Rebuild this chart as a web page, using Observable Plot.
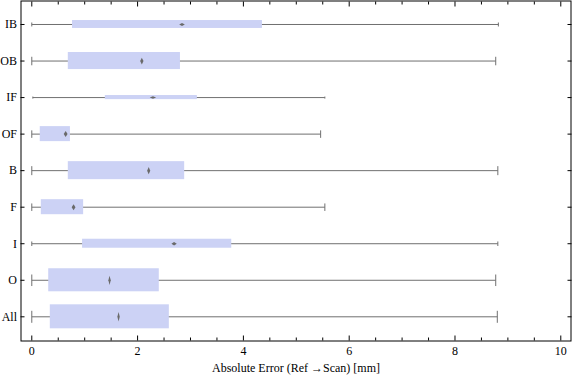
<!DOCTYPE html>
<html><head><meta charset="utf-8">
<script src="https://cdn.jsdelivr.net/npm/d3@7"></script>
<script src="https://cdn.jsdelivr.net/npm/@observablehq/plot@0.6"></script>
<style>body{margin:0;background:#fff}</style>
</head><body><div id="chart"></div>
<script>
const categories = ["IB","OB","IF","OF","B","F","I","O","All"];
const mins    = [0.00, 0.00, 0.02, 0.00, 0.00, 0.00, 0.00, 0.00, 0.00];
const q1s     = [0.77, 0.69, 1.39, 0.16, 0.69, 0.18, 0.96, 0.32, 0.35];
const medians = [2.84, 2.08, 2.29, 0.64, 2.21, 0.79, 2.69, 1.47, 1.64];
const q3s     = [4.36, 2.81, 3.13, 0.73, 2.89, 0.98, 3.78, 2.41, 2.60];
const maxs    = [8.82, 8.77, 5.54, 5.46, 8.81, 5.54, 8.81, 8.77, 8.80];
const relWidths = [0.33, 0.71, 0.17, 0.625, 0.75, 0.625, 0.375, 0.96, 1.0];
const xMajorTicks = [0, 2, 4, 6, 8, 10];
const xMinorTicks = [0.5, 1, 1.5, 2.5, 3, 3.5, 4.5, 5, 5.5, 6.5, 7, 7.5, 8.5, 9, 9.5];
const xLabel = "Absolute Error (Ref \u2192Scan) [mm]";

const n = categories.length;
const maxBox = 0.657; // box thickness (y units) for relWidth 1
const rows = categories.map((c, i) => ({
  cat: c, pos: n - 1 - i,
  min: mins[i], q1: q1s[i], med: medians[i], q3: q3s[i], max: maxs[i],
  half: relWidths[i] * maxBox / 2,
  px: relWidths[i] * 24
}));
const yTicks = rows.map(d => d.pos);

const lens = {
  draw(ctx, size) {
    const bh = Math.sqrt(size / Math.PI);
    const h = Math.max(1.2, bh / 5);
    const w = Math.min(3.2, Math.max(1.2, 3.8 - bh / 8));
    ctx.moveTo(0, -h); ctx.lineTo(w, 0); ctx.lineTo(0, h); ctx.lineTo(-w, 0); ctx.closePath();
  }
};

const empty = () => "";
const chart = Plot.plot({
  width: 576, height: 381,
  marginLeft: 20.5, marginRight: 5.5, marginTop: 0.5, marginBottom: 40.5,
  x: {domain: [-0.204, 10.193], label: null},
  y: {domain: [-0.662, 8.643], label: null},
  r: {type: "identity"},
  style: {fontFamily: "Liberation Serif", fontSize: "12px", background: "white", color: "black"},
  marks: [
    Plot.link(rows, {x1: "min", x2: "max", y1: "pos", y2: "pos", stroke: "#707070", strokeWidth: 1}),
    Plot.link(rows, {x1: "min", x2: "min", y1: d => d.pos - d.half / 2, y2: d => d.pos + d.half / 2, stroke: "#707070"}),
    Plot.link(rows, {x1: "max", x2: "max", y1: d => d.pos - d.half / 2, y2: d => d.pos + d.half / 2, stroke: "#707070"}),
    Plot.rect(rows, {x1: "q1", x2: "q3", y1: d => d.pos - d.half, y2: d => d.pos + d.half, fill: "#ccd2f5"}),
    Plot.dot(rows, {x: "med", y: "pos", r: "px", symbol: lens, fill: "#6a6a6a", stroke: "none"}),
    Plot.axisY({ticks: yTicks, tickFormat: i => categories[n - 1 - i], tickSize: 0, tickPadding: 4, label: null}),
    Plot.axisY({anchor: "left", ticks: yTicks, tickSize: -4, tickFormat: empty, label: null}),
    Plot.axisY({anchor: "right", ticks: yTicks, tickSize: -4, tickFormat: empty, label: null}),
    Plot.axisX({ticks: xMajorTicks, tickSize: 0, tickPadding: 5.5, label: null}),
    Plot.axisX({anchor: "bottom", ticks: xMajorTicks, tickSize: -5, tickFormat: empty, label: null}),
    Plot.axisX({anchor: "bottom", ticks: xMinorTicks, tickSize: -3, tickFormat: empty, label: null}),
    Plot.axisX({anchor: "top", ticks: xMajorTicks, tickSize: -5, tickFormat: empty, label: null}),
    Plot.axisX({anchor: "top", ticks: xMinorTicks, tickSize: -3, tickFormat: empty, label: null}),
    Plot.frame({stroke: "black", strokeWidth: 1}),
    Plot.text([xLabel], {text: d => d, frameAnchor: "bottom", dy: 31, fontSize: 12})
  ]
});
document.getElementById("chart").appendChild(chart);
</script>
</body></html>
